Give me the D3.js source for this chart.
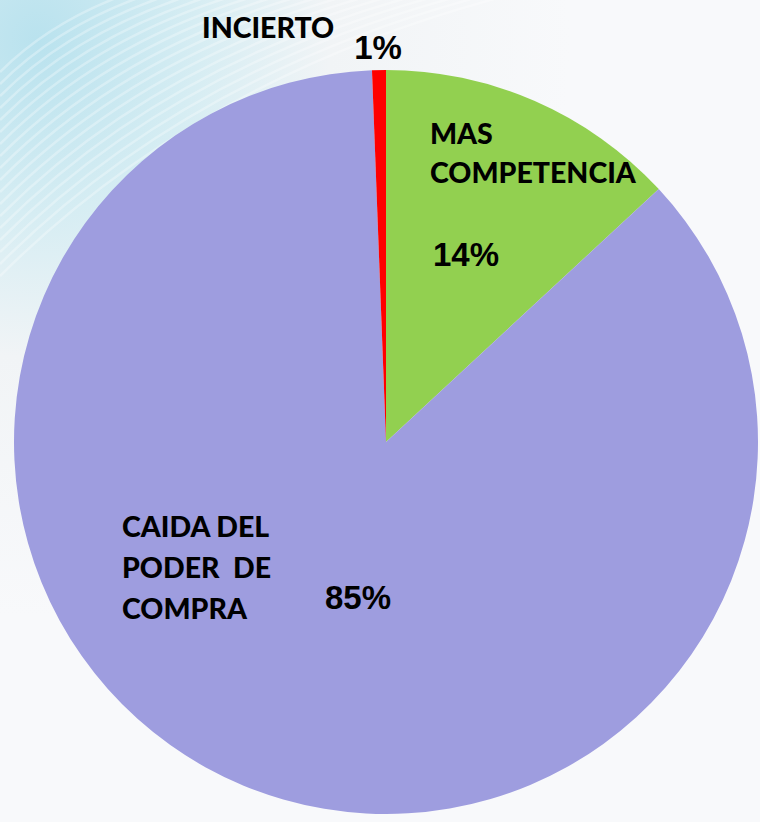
<!DOCTYPE html>
<html>
<head>
<meta charset="utf-8">
<script src="https://cdn.jsdelivr.net/npm/d3@7"></script>
<style>
    html, body { margin: 0; padding: 0; }
    body { width: 760px; height: 822px; overflow: hidden; }
    .slice-name { font-family: Lato, "Open Sans", sans-serif; font-weight: 900; fill: #000; }
    .slice-pct { font-family: "Liberation Sans", Arial, sans-serif; font-weight: 700; fill: #000; }
</style>
</head>
<body>
<div id="chart"></div>
<script>
'use strict';

// Slices, clockwise from 12 o'clock
const categories = ['MAS COMPETENCIA', 'CAIDA DEL PODER DE COMPRA', 'INCIERTO'];
const shares = [13.1, 86.3, 0.6];
const pctLabels = ['14%', '85%', '1%'];
const nameLines = [['MAS', 'COMPETENCIA'], ['CAIDA DEL', 'PODER  DE', 'COMPRA'], ['INCIERTO']];
const colors = ['#92d050', '#9e9ddf', '#ff0000'];

const width = 760, height = 822;
const cx = 386, cy = 442, radius = 372;

const svg = d3.select('#chart').append('svg')
    .attr('width', width)
    .attr('height', height);

// Background: pale with a bluish streaky corner top-left
const defs = svg.append('defs');
const bg = defs.append('radialGradient')
    .attr('id', 'bg')
    .attr('cx', 0.05).attr('cy', 0.05).attr('r', 0.7)
    .attr('gradientUnits', 'objectBoundingBox');
bg.append('stop').attr('offset', '0%').attr('stop-color', '#b9e2ee');
bg.append('stop').attr('offset', '30%').attr('stop-color', '#d6edf3');
bg.append('stop').attr('offset', '55%').attr('stop-color', '#f1f4f6');
bg.append('stop').attr('offset', '100%').attr('stop-color', '#f8f9fb');

svg.append('rect')
    .attr('width', width).attr('height', height)
    .attr('fill', 'url(#bg)');

// faint streaks in the corner
const streaks = d3.range(0, 18);
svg.append('g')
    .selectAll('path')
    .data(streaks)
    .join('path')
    .attr('d', i => {
        let r0 = 120 + i * 20;
        return `M0,${r0 * 0.6} Q${r0 * 0.45},${r0 * 0.15} ${r0 * 1.15},-10`;
    })
    .attr('fill', 'none')
    .attr('stroke', '#ffffff')
    .attr('stroke-opacity', 0.3)
    .attr('stroke-width', 2.5);

const pie = d3.pie().sort(null).value(d => d)(shares);
const arc = d3.arc().innerRadius(0).outerRadius(radius);

const chart = svg.append('g')
    .attr('transform', `translate(${cx}, ${cy})`);

chart.selectAll('path.slice')
    .data(pie)
    .join('path')
    .classed('slice', true)
    .attr('d', arc)
    .attr('fill', (d, i) => colors[i]);

// Label positions (relative to the pie centre)
const namePos = [
    { x: 44, y: -298, lh: 39 },
    { x: -264, y: 95, lh: 41 },
    { x: -184, y: -404, lh: 0 }
];
const pctPos = [
    { x: 80, y: -176 },
    { x: -28, y: 167 },
    { x: -8, y: -383 }
];

const names = chart.selectAll('text.slice-name')
    .data(nameLines)
    .join('text')
    .classed('slice-name', true)
    .style('font-size', '28.5px')
    .attr('x', (d, i) => namePos[i].x)
    .attr('y', (d, i) => namePos[i].y);

names.selectAll('tspan')
    .data((d, i) => d.map((t, j) => ({ t, j, p: namePos[i] })))
    .join('tspan')
    .attr('x', d => d.p.x)
    .attr('y', d => d.p.y + d.j * d.p.lh)
    .style('white-space', 'pre')
    .text(d => d.t);

chart.selectAll('text.slice-pct')
    .data(pctLabels)
    .join('text')
    .classed('slice-pct', true)
    .style('font-size', '33px')
    .attr('text-anchor', 'middle')
    .attr('x', (d, i) => pctPos[i].x)
    .attr('y', (d, i) => pctPos[i].y)
    .text(d => d);
</script>
</body>
</html>
